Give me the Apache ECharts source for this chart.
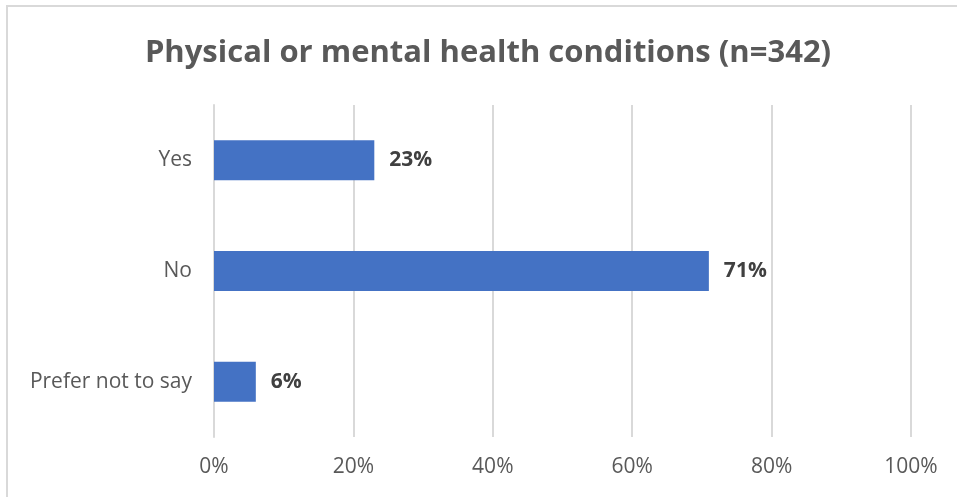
<!DOCTYPE html>
<html>
<head>
<meta charset="UTF-8">
<script src="https://cdn.jsdelivr.net/npm/echarts@6/dist/echarts.min.js"></script>
<style>
  html, body { margin: 0; padding: 0; background: #fff; }
  #frame { position: absolute; left: 6px; top: 5px; width: 960px; height: 500px;
           border-left: 2px solid #d9d9d9; border-top: 2px solid #d9d9d9; }
  #chart { position: absolute; left: 0; top: 0; width: 957px; height: 497px; }
</style>
</head>
<body>
<div id="frame"></div>
<div id="chart"></div>
<script>
  var categories = ['Yes', 'No', 'Prefer not to say'];
  var values = [23, 71, 6];
  var ticks = [0, 20, 40, 60, 80, 100];

  var chart = echarts.init(document.getElementById('chart'));
  var font = '"Open Sans", Lato, sans-serif';

  var option = {
    animation: false,
    title: {
      text: 'Physical or mental health conditions (n=342)',
      left: 483,
      textAlign: 'center',
      top: 33,
      textStyle: { color: '#595959', fontSize: 31, fontWeight: 'bold', fontFamily: font }
    },
    grid: { left: 214, right: 46, top: 105, bottom: 60 },
    xAxis: {
      type: 'value',
      min: ticks[0],
      max: ticks[ticks.length - 1],
      interval: 20,
      axisLine: { show: false },
      axisTick: { show: false },
      splitLine: { lineStyle: { color: '#d9d9d9', width: 2 } },
      axisLabel: {
        color: '#595959', fontSize: 21, fontFamily: font, margin: 20,
        formatter: function (v) { return v + '%'; }
      }
    },
    yAxis: {
      type: 'category',
      inverse: true,
      data: categories,
      axisLine: { show: true, lineStyle: { color: '#d9d9d9', width: 2 } },
      axisTick: { show: false },
      axisLabel: { color: '#595959', fontSize: 21, fontFamily: font, margin: 22 }
    },
    series: [{
      type: 'bar',
      data: values,
      barWidth: 40,
      itemStyle: { color: '#4472c4' },
      label: {
        show: true,
        position: 'right',
        distance: 15,
        color: '#404040',
        fontSize: 21,
        fontWeight: 'bold',
        fontFamily: font,
        formatter: function (p) { return p.value + '%'; }
      }
    }]
  };
  chart.setOption(option);
</script>
</body>
</html>
